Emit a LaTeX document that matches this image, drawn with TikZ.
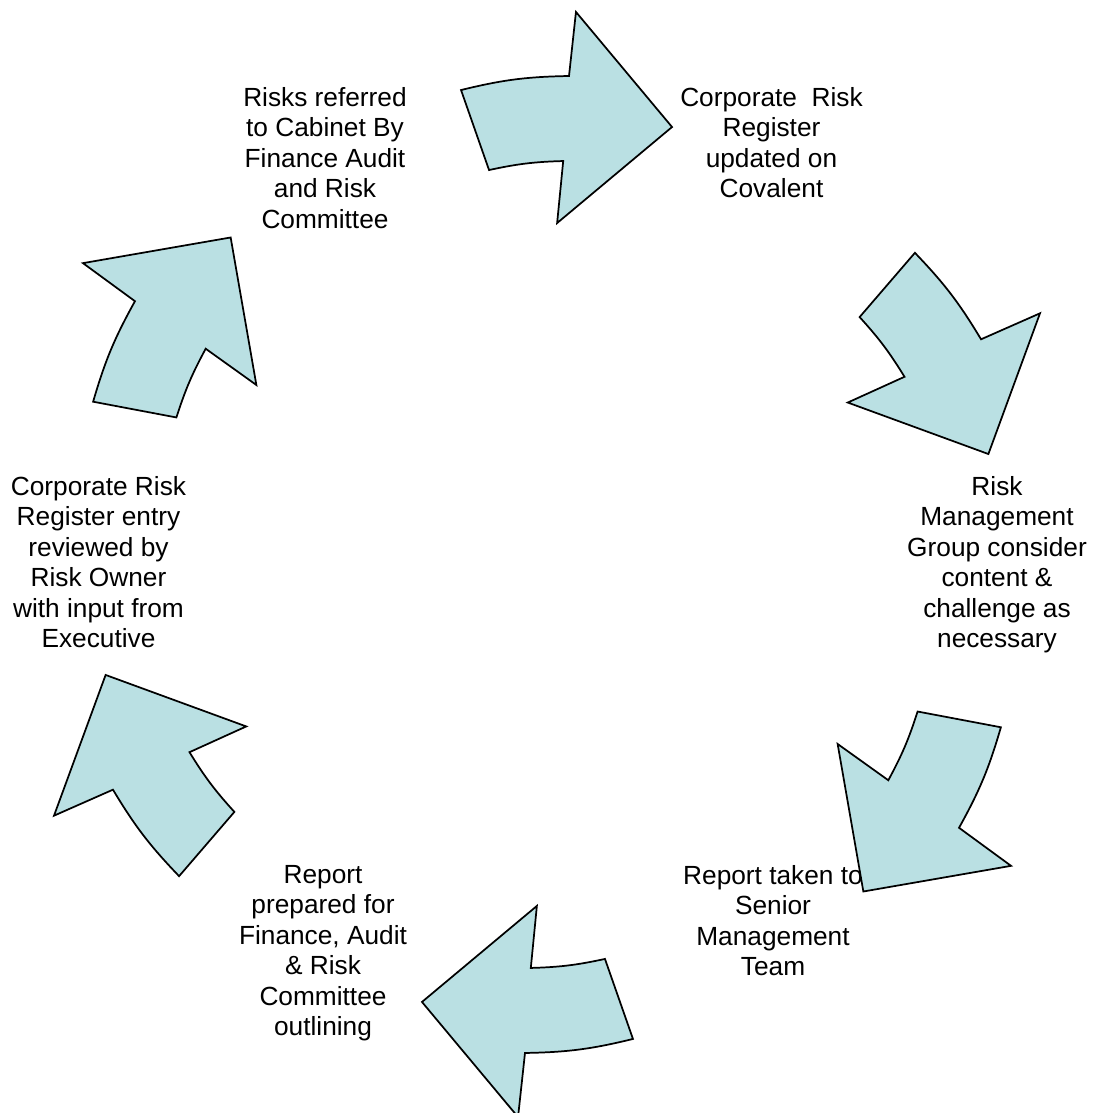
\documentclass[tikz,border=0pt]{standalone}
\usepackage{fontspec}
\setmainfont{Liberation Sans}
\definecolor{arrowfill}{RGB}{186,224,227}
\begin{document}
\begin{tikzpicture}[x=0.75pt,y=0.75pt,
  cyclearrow/.style={fill=arrowfill,draw=black,line width=1.3pt,line join=miter},
  lbl/.style={align=center,inner sep=0pt,anchor=north,font=\fontsize{19.7}{22.9}\selectfont}]
\useasboundingbox (0,0) rectangle (1092,1113);
% labels
\node[lbl] (t1) at (325,1026.2) {Risks referred\\to Cabinet By\\Finance Audit\\and Risk\\Committee};
\node[lbl] (t2) at (771.5,1026.2) {Corporate~~Risk\\Register\\updated on\\Covalent};
\node[lbl] (t3) at (997,637.2) {Risk\\Management\\Group consider\\content \&\\challenge as\\necessary};
\node[lbl] (t4) at (773,248.2) {Report taken to\\Senior\\Management\\Team};
\node[lbl] (t5) at (323,248.2) {Report\\prepared for\\Finance, Audit\\\& Risk\\Committee\\outlining};
\node[lbl] (t6) at (98.5,637.2) {Corporate Risk\\Register entry\\reviewed by\\Risk Owner\\with input from\\Executive};
% arrows
\foreach \k in {0,...,5} {
  \begin{scope}[shift={(547,548.5)},rotate=-60*\k]
    \path[cyclearrow] (100.27:482.2) to[bend left=6.4] (87.42:489) -- (87.0:553.3)
      -- (74.05:455) -- (88.3:341.6) -- (87.7:403.8) to[bend right=5.3] (98.36:398.7) -- cycle;
  \end{scope}
}
\end{tikzpicture}
\end{document}
